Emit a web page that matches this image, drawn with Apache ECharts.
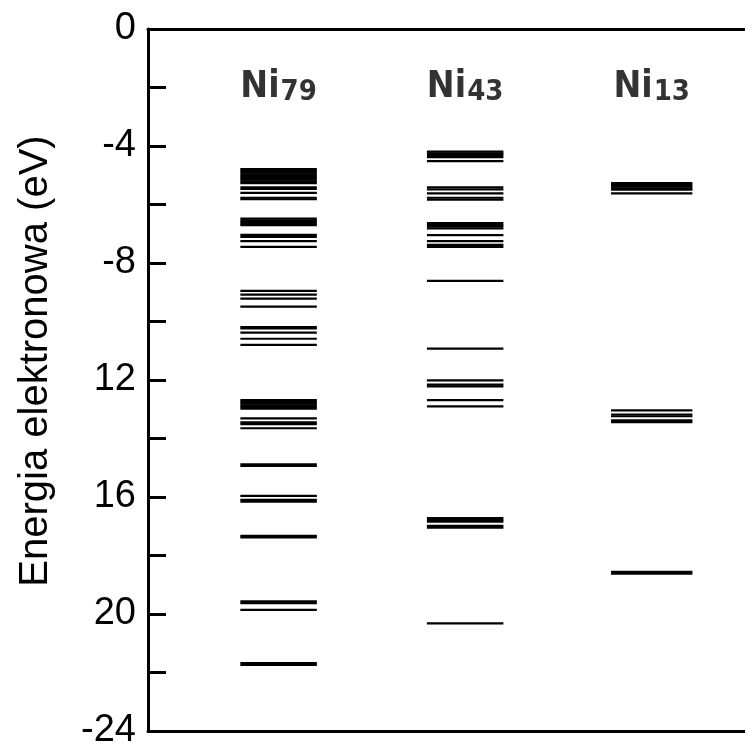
<!DOCTYPE html>
<html>
<head>
<meta charset="utf-8">
<script src="https://cdn.jsdelivr.net/npm/echarts@6/dist/echarts.min.js"></script>
<style>html,body{margin:0;padding:0;background:#fff}#c{width:745px;height:750px}</style>
</head>
<body>
<div id="c"></div>
<script>
// ---- data ----
const clusterBase = ['Ni', 'Ni', 'Ni'];
const clusterSub = ['79', '43', '13'];
const clusterPos = [1, 2, 3];
const yTickLabels = ['0', '-4', '-8', '12', '16', '20', '-24'];
const ni79Levels = [-4.79, -4.85, -4.91, -4.97, -5.03, -5.09, -5.15, -5.21, -5.27,
  -5.41, -5.47, -5.60, -5.77, -5.82,
  -6.48, -6.54, -6.60, -6.66, -6.71, -7.04, -7.11, -7.25, -7.45,
  -8.95, -9.08, -9.22, -9.49,
  -10.19, -10.24, -10.38, -10.59, -10.80,
  -12.69, -12.75, -12.81, -12.87, -12.93, -12.98,
  -13.31, -13.45, -13.51, -13.65,
  -14.88, -14.94, -15.96, -16.10, -16.16, -17.33, -17.38,
  -19.57, -19.63, -19.86, -21.68, -21.74];
const ni43Levels = [-4.19, -4.25, -4.31, -4.38, -4.52,
  -5.41, -5.48, -5.62, -5.77, -5.83,
  -6.64, -6.70, -6.76, -6.82, -7.05, -7.25, -7.38, -7.45,
  -8.61, -10.93, -12.01, -12.16, -12.22, -12.69, -12.90,
  -16.72, -16.78, -16.84, -16.99, -17.05, -20.32];
const ni13Levels = [-5.27, -5.33, -5.39, -5.45, -5.49, -5.62,
  -13.04, -13.18, -13.24, -13.38, -13.44, -18.56, -18.62];

// ---- styling ----
const halfWidths = [0.205, 0.205, 0.218];
const LABEL_Y = -2.0;
const allLevels = [ni79Levels, ni43Levels, ni13Levels];
const levelData = [];
allLevels.forEach((arr, ci) => arr.forEach(e => levelData.push([clusterPos[ci], e, ci])));
const labelData = clusterPos.map((x, i) => ({value: [x, LABEL_Y], name: clusterBase[i], sub: clusterSub[i]}));

const chart = echarts.init(document.getElementById('c'), null, {renderer: 'canvas'});
const axisLineStyle = {color: '#000', width: 3};
chart.setOption({
  animation: false,
  backgroundColor: '#fff',
  grid: {left: 148, right: -3, top: 29, bottom: 14},
  xAxis: [
    {type: 'value', min: 0.3, max: 3.5, position: 'bottom',
     axisLine: {show: true, onZero: false, lineStyle: axisLineStyle},
     axisTick: {show: false}, axisLabel: {show: false}, splitLine: {show: false}},
    {type: 'value', min: 0.3, max: 3.5, position: 'top',
     axisLine: {show: true, onZero: false, lineStyle: axisLineStyle},
     axisTick: {show: false}, axisLabel: {show: false}, splitLine: {show: false}}
  ],
  yAxis: {
    type: 'value', min: -24, max: 0, interval: 4,
    name: 'Energia elektronowa (eV)', nameLocation: 'middle', nameGap: 92,
    nameTextStyle: {fontFamily: 'Liberation Sans', fontSize: 40, color: '#000', padding: [0, 0, 0, 38]},
    axisLine: {show: true, onZero: false, lineStyle: axisLineStyle},
    axisTick: {show: true, inside: true, length: 18, lineStyle: {color: '#000', width: 3}},
    minorTick: {show: true, splitNumber: 2, length: 18, lineStyle: {color: '#000', width: 3}},
    splitLine: {show: false}, minorSplitLine: {show: false},
    axisLabel: {
      margin: 12, fontFamily: 'Liberation Sans', fontSize: 38, color: '#000',
      formatter: v => yTickLabels[Math.round(-v / 4)]
    }
  },
  series: [
    {
      type: 'custom', xAxisIndex: 0, yAxisIndex: 0,
      data: levelData,
      renderItem: (params, api) => {
        const x = api.value(0), e = api.value(1), ci = api.value(2);
        const hw = halfWidths[ci];
        const p1 = api.coord([x - hw, e]);
        const p2 = api.coord([x + hw, e]);
        return {type: 'line', shape: {x1: p1[0], y1: p1[1], x2: p2[0], y2: p2[1]},
                style: {stroke: '#000', lineWidth: 2.2}};
      }
    },
    {
      type: 'scatter', xAxisIndex: 0, yAxisIndex: 0, symbolSize: 0,
      data: labelData,
      label: {
        show: true, position: 'inside',
        formatter: p => '{a|' + p.data.name + '}{b|' + p.data.sub + '}',
        rich: {
          a: {fontFamily: 'DejaVu Sans Condensed', fontWeight: 'bold', fontSize: 37, color: '#000', lineHeight: 38, verticalAlign: 'top'},
          b: {fontFamily: 'DejaVu Sans Condensed', fontWeight: 'bold', fontSize: 29, color: '#000', lineHeight: 28, padding: [22, 0, 0, 1], verticalAlign: 'bottom'}
        }
      }
    }
  ]
});
</script>
</body>
</html>
